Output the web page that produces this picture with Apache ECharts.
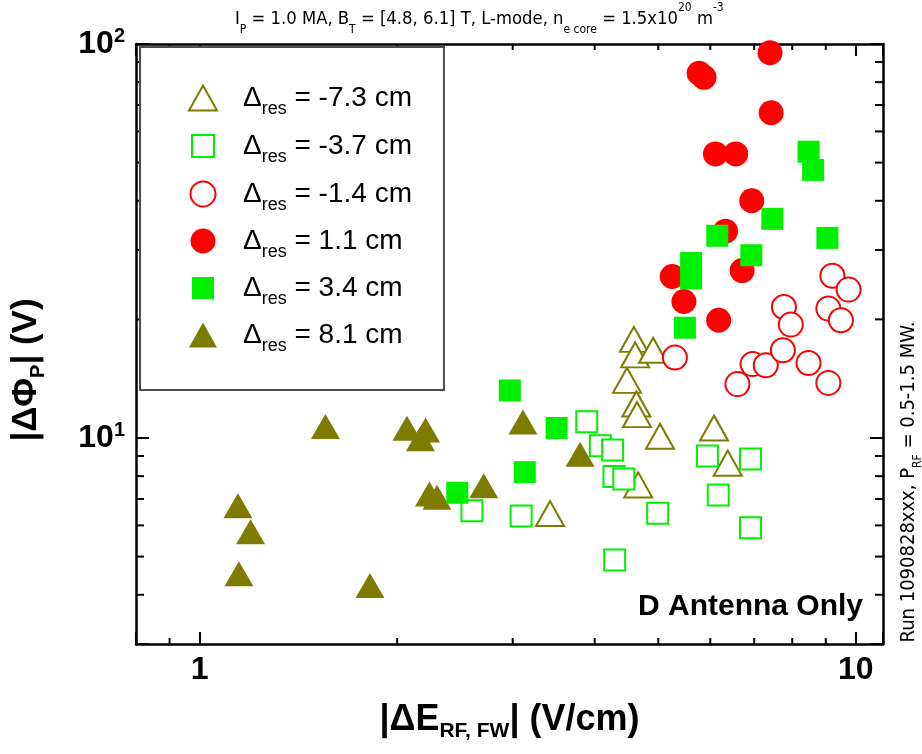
<!DOCTYPE html>
<html><head><meta charset="utf-8">
<script src="https://cdn.jsdelivr.net/npm/echarts@6.0.0/dist/echarts.min.js"></script>
<style>html,body{margin:0;padding:0;background:#fff}#c{width:922px;height:754px}</style>
</head><body><div id="c"></div>
<script>
// ---- data ----
const seriesNames = ['-7.3 cm', '-3.7 cm', '-1.4 cm', '1.1 cm', '3.4 cm', '8.1 cm'];
const openTri = [[4.59,17.8],[4.61,16.25],[4.91,16.7],[4.48,14.0],[4.63,12.2],[4.64,11.46],[5.03,10.1],[6.08,10.6],[6.38,8.63],[4.66,7.60],[3.42,6.43]];
const openSq = [[2.60,6.54],[3.09,6.34],[3.89,11.0],[4.08,9.56],[4.26,9.32],[4.28,7.98],[4.43,7.87],[4.99,6.44],[4.29,4.90],[5.94,9.00],[6.91,8.84],[6.17,7.17],[6.91,5.92]];
const openCirc = [[5.30,16.0],[6.60,13.7],[6.96,15.4],[7.29,15.3],[7.74,16.7],[8.47,15.5],[9.08,13.8],[7.77,21.5],[7.96,19.4],[9.08,21.3],[9.49,19.9],[9.21,25.8],[9.75,23.8]];
const filledCirc = [[7.40,95],[5.77,84.3],[5.87,82.3],[7.43,66.9],[6.11,52.6],[6.56,52.6],[6.94,40.0],[6.33,33.5],[6.71,26.6],[5.25,25.7],[5.47,22.2],[6.18,19.9]];
const filledSq = [[8.47,53.3],[8.61,47.9],[7.46,36.0],[9.05,32.2],[6.15,32.6],[6.93,29.1],[5.61,27.8],[5.61,25.4],[5.49,19.05],[2.97,13.2],[3.50,10.6],[3.13,8.19],[2.47,7.26]];
const filledTri = [[1.555,10.7],[2.07,10.58],[2.21,10.48],[2.17,9.96],[2.24,7.21],[2.30,7.07],[1.144,6.73],[1.196,5.78],[1.148,4.52],[1.818,4.22],[2.71,7.57],[3.11,10.98],[3.80,9.10]];
const xRange = [0.8, 11];
const yRange = [3, 100];
const xMinorTicks = [0.9, 2, 3, 4, 5, 6, 7, 8, 9];
const yMinorTicks = [4, 5, 6, 7, 8, 9, 20, 30, 40, 50, 60, 70, 80, 90];
const titleText = 'I{s|P} = 1.0 MA, B{s|T} = [4.8, 6.1] T, L-mode, n{s|e core} = 1.5x10{u|20} m{u|-3}';
const sideText = 'Run 1090828xxx, P{s|RF} = 0.5-1.5 MW.';
const noteText = 'D Antenna Only';
const xName = '{t||ΔE}{s|RF, FW}{t|| (V/cm)}';
const yName = '{t||ΔΦ}{s|P}{t|| (V)}';

// ---- styling ----
const SANS = '"Liberation Sans", Arial, sans-serif';
const NARROW = '"Liberation Sans Narrow", "Arial Narrow", "DejaVu Sans Condensed", sans-serif';
const OLIVE = '#7d7c00', GREEN = '#00f000', RED = '#ff0000';
function rs(size, weight, lh, va, fam) {
  return {fontSize: size, fontWeight: weight, lineHeight: lh, verticalAlign: va, fontFamily: fam || SANS, color: '#000'};
}
function isPow10(v) { const l = Math.log10(v); return Math.abs(l - Math.round(l)) < 1e-6; }
const lineStyle = {color: '#000', width: 2.5};

function axisX(pos, showLabel) {
  return {
    type: 'log', logBase: 10, min: xRange[0], max: xRange[1], position: pos,
    axisLine: {show: true, onZero: false, lineStyle: lineStyle},
    axisTick: {show: true, inside: true, length: 12, lineStyle: {color: '#000', width: 2}},
    minorTick: {show: false}, splitLine: {show: false}, minorSplitLine: {show: false},
    axisLabel: showLabel ? {
      show: true, margin: 10, color: '#000', fontFamily: SANS, fontWeight: 'bold', fontSize: 32,
      formatter: v => isPow10(v) ? String(Math.round(v)) : ''
    } : {show: false},
    name: showLabel ? xName : '', nameLocation: 'middle', nameGap: 54, nameMoveOverlap: false,
    nameTextStyle: {rich: {t: rs(36, 'bold', 44, 'middle'), s: rs(21, 'bold', 12, 'bottom')}}
  };
}
function axisY(pos, showLabel) {
  return {
    type: 'log', logBase: 10, min: yRange[0], max: yRange[1], position: pos,
    axisLine: {show: true, onZero: false, lineStyle: lineStyle},
    axisTick: {show: true, inside: true, length: 13, lineStyle: {color: '#000', width: 2}},
    minorTick: {show: false}, splitLine: {show: false}, minorSplitLine: {show: false},
    axisLabel: showLabel ? {
      show: true, margin: 11, color: '#000',
      formatter: v => isPow10(v) ? '{b|10}{u|' + Math.round(Math.log10(v)) + '}' : '',
      rich: {b: rs(32, 'bold', 36, 'middle'), u: rs(20, 'bold', 18, 'top')}
    } : {show: false},
    name: showLabel ? yName : '', nameLocation: 'middle', nameRotate: 90, nameGap: 88, nameMoveOverlap: false,
    nameTextStyle: {padding: [0, 52, 0, 0], rich: {t: rs(35, 'bold', 44, 'middle'), s: rs(20, 'bold', 12, 'bottom')}}
  };
}

function minorTickSeries(values, isX) {
  return {
    type: 'custom', silent: true, z: 5, clip: false,
    data: values.map(v => isX ? [v, 10] : [1, v]),
    renderItem: function (params, api) {
      const cs = params.coordSys;
      const p = api.coord([api.value(0), api.value(1)]);
      const st = {stroke: '#000', lineWidth: 2};
      const L = isX ? 6 : 8;
      if (isX) {
        const b = cs.y + cs.height, t = cs.y;
        return {type: 'group', children: [
          {type: 'line', shape: {x1: p[0], y1: b, x2: p[0], y2: b - L}, style: st},
          {type: 'line', shape: {x1: p[0], y1: t, x2: p[0], y2: t + L}, style: st}
        ]};
      } else {
        const l = cs.x, r = cs.x + cs.width;
        return {type: 'group', children: [
          {type: 'line', shape: {x1: l, y1: p[1], x2: l + L, y2: p[1]}, style: st},
          {type: 'line', shape: {x1: r, y1: p[1], x2: r - L, y2: p[1]}, style: st}
        ]};
      }
    }
  };
}

function scatter(name, data, symbol, size, fill, stroke, bw) {
  return {
    name: name, type: 'scatter', data: data, symbol: symbol, symbolSize: size,
    itemStyle: {color: fill, borderColor: stroke || fill, borderWidth: bw || 0, opacity: 1},
    emphasis: {disabled: true}, clip: false, z: 3
  };
}

const ICON_TRI = 'path://M0 0M30 30M15 2.5L29 27.5L1 27.5Z';
const ICON_SQ = 'path://M0 0M30 30M4 4L26 4L26 26L4 26Z';
const ICON_CI = 'path://M0 0M30 30M2.5 15A12.5 12.5 0 1 1 27.5 15A12.5 12.5 0 1 1 2.5 15Z';

const chart = echarts.init(document.getElementById('c'), null, {renderer: 'canvas'});
chart.setOption({
  animation: false,
  backgroundColor: '#fff',
  title: {
    text: titleText, left: 235, top: 2, padding: 0,
    textStyle: {fontFamily: NARROW, fontSize: 18.3, fontWeight: 'normal', color: '#000', lineHeight: 34,
      rich: {s: rs(12, 'normal', 14, 'bottom', NARROW), u: rs(12, 'normal', 18, 'top', NARROW)}}
  },
  grid: {left: 136, right: 39, top: 44, bottom: 110, containLabel: false, outerBoundsMode: 'none'},
  xAxis: [axisX('bottom', true), axisX('top', false)],
  yAxis: [axisY('left', true), axisY('right', false)],
  legend: {
    orient: 'vertical', left: 140, top: 47, itemWidth: 30, itemHeight: 30, itemGap: 12,
    padding: [35, 32, 35, 47], borderColor: '#4d4d4d', borderWidth: 2, backgroundColor: '#fff',
    selectedMode: false, z: 10,
    formatter: n => '{gap|}{t|Δ}{s|res}{t| = ' + n + '}',
    textStyle: {rich: {gap: {width: 20}, t: rs(28, 'normal', 40, 'middle'), s: rs(18, 'normal', 10, 'bottom')}},
    data: [
      {name: seriesNames[0], icon: ICON_TRI, itemStyle: {color: '#fff', borderColor: OLIVE, borderWidth: 2}},
      {name: seriesNames[1], icon: ICON_SQ, itemStyle: {color: '#fff', borderColor: GREEN, borderWidth: 2}},
      {name: seriesNames[2], icon: ICON_CI, itemStyle: {color: '#fff', borderColor: RED, borderWidth: 2}},
      {name: seriesNames[3], icon: ICON_CI, itemStyle: {color: RED, borderColor: RED, borderWidth: 0}},
      {name: seriesNames[4], icon: ICON_SQ, itemStyle: {color: GREEN, borderColor: GREEN, borderWidth: 0}},
      {name: seriesNames[5], icon: ICON_TRI, itemStyle: {color: OLIVE, borderColor: OLIVE, borderWidth: 0}}
    ]
  },
  graphic: [
    {type: 'text', x: 863, y: 607, z: 20, style: {text: noteText, fontFamily: SANS, fontWeight: 'bold', fontSize: 30, fill: '#000',
      align: 'right', textAlign: 'right', verticalAlign: 'middle', textVerticalAlign: 'middle'}},
    {type: 'text', x: 909, y: 482, rotation: Math.PI / 2, z: 20, style: {text: sideText, fontFamily: NARROW, fontSize: 20, fill: '#000',
      lineHeight: 30, rich: {s: rs(12, 'normal', 12, 'bottom', NARROW)},
      align: 'center', textAlign: 'center', verticalAlign: 'middle', textVerticalAlign: 'middle'}}
  ],
  series: [
    scatter(seriesNames[0], openTri, 'triangle', [28, 25], '#fff', OLIVE, 2),
    scatter(seriesNames[1], openSq, 'rect', 21, '#fff', GREEN, 2),
    scatter(seriesNames[2], openCirc, 'circle', 24, '#fff', RED, 2),
    scatter(seriesNames[3], filledCirc, 'circle', 25, RED),
    scatter(seriesNames[5], filledTri, 'triangle', [29, 25], OLIVE),
    scatter(seriesNames[4], filledSq, 'rect', 22, GREEN),
    minorTickSeries(xMinorTicks, true),
    minorTickSeries(yMinorTicks, false)
  ]
});
</script>
</body></html>
